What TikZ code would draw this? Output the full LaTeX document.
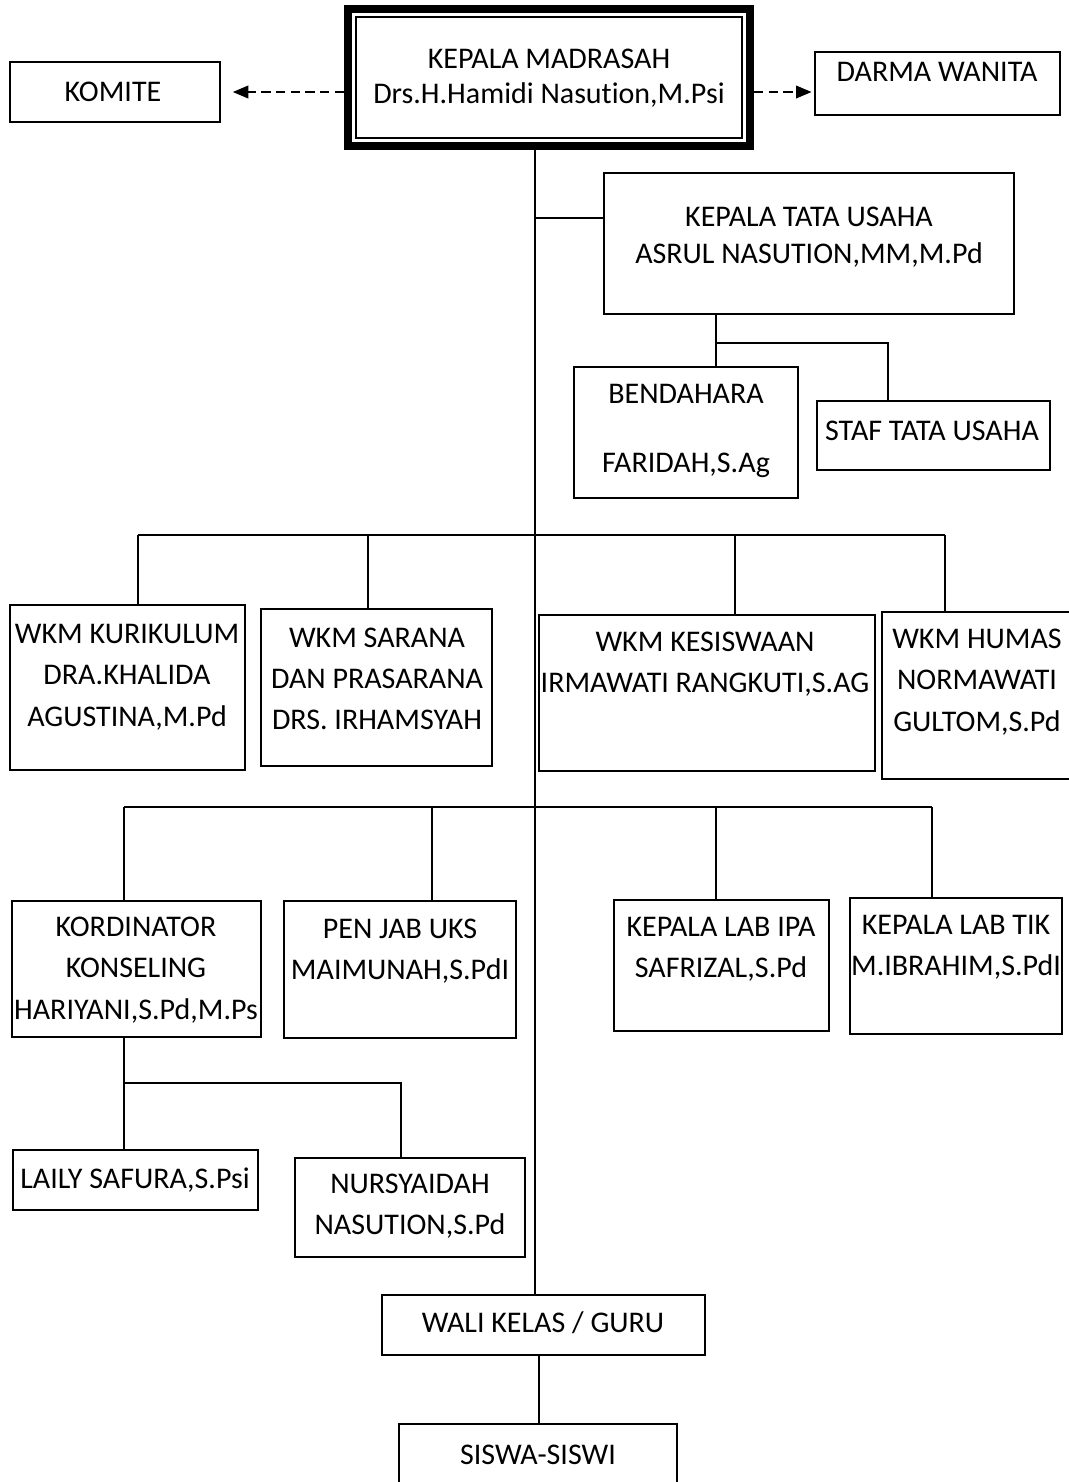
\documentclass[tikz,border=0pt]{standalone}
\usepackage{fontspec}
\setmainfont{Carlito}[Ligatures=NoCommon]
\usepackage{tikz}
\usetikzlibrary{arrows,fit}

\tikzset{
  box/.style={draw, line width=1.3pt, inner sep=0pt},
  txt/.style={align=center, inner sep=0pt, font=\fontsize{22.5}{31}\selectfont},
  link/.style={line width=1.1pt},
  dasharrow/.style={line width=1.7pt, dash pattern=on 7pt off 4pt, -triangle 45}
}

\begin{document}
\begin{tikzpicture}[x=0.75pt,y=-0.75pt]
\useasboundingbox (0,0) rectangle (1069,1482);

% pimpinan
\node[box, line width=6pt, fit={(348,9) (750,146)}] (kepala) {};
\draw[line width=1.3pt] ([shift={(12,12)}]kepala.north west) rectangle ([shift={(-12,-12)}]kepala.south east);
\node[txt, font=\fontsize{22.5}{26}\selectfont] (kepalaT) at (549,78) {KEPALA MADRASAH\\Drs.H.Hamidi Nasution,M.Psi};
\node[box, fit={(10,62) (220,122)}] (komite) {};
\node[txt] (komiteT) at (113,92) {KOMITE};
\node[box, fit={(815,52) (1060,115)}] (darma) {};
\node[txt] (darmaT) at (937,72) {DARMA WANITA};

% tata usaha
\node[box, fit={(604,173) (1014,314)}] (ktu) {};
\node[txt, font=\fontsize{22.5}{28}\selectfont] (ktuT) at (809,237) {KEPALA TATA USAHA\\ASRUL NASUTION,MM,M.Pd};
\node[box, fit={(574,367) (798,498)}] (bend) {};
\node[txt, font=\fontsize{22.5}{52}\selectfont] (bendT) at (686,431) {BENDAHARA\\FARIDAH,S.Ag};
\node[box, fit={(817,401) (1050,470)}] (staf) {};
\node[txt] (stafT) at (932,431) {STAF TATA USAHA};

% wakil kepala
\node[box, fit={(10,605) (245,770)}] (kur) {};
\node[txt] (kurT) at (127,677) {WKM KURIKULUM\\DRA.KHALIDA\\AGUSTINA,M.Pd};
\node[box, fit={(261,609) (492,766)}] (sar) {};
\node[txt] (sarT) at (377,679) {WKM SARANA\\DAN PRASARANA\\DRS. IRHAMSYAH};
\node[box, fit={(539,615) (875,771)}] (kes) {};
\node[txt] (kesT) at (705,664) {WKM KESISWAAN\\IRMAWATI RANGKUTI,S.AG};
\node[box, fit={(882,612) (1075,779)}] (hum) {};
\node[txt] (humT) at (977,682) {WKM HUMAS\\NORMAWATI\\GULTOM,S.Pd};

% koordinator
\node[box, fit={(12,901) (261,1037)}] (kord) {};
\node[txt] (kordT) at (136,970) {KORDINATOR\\KONSELING\\HARIYANI,S.Pd,M.Ps};
\node[box, fit={(284,901) (516,1038)}] (uks) {};
\node[txt] (uksT) at (400,951) {PEN JAB UKS\\MAIMUNAH,S.PdI};
\node[box, fit={(614,900) (829,1031)}] (ipa) {};
\node[txt] (ipaT) at (721,949) {KEPALA LAB IPA\\SAFRIZAL,S.Pd};
\node[box, fit={(850,898) (1062,1034)}] (tik) {};
\node[txt] (tikT) at (956,947) {KEPALA LAB TIK\\M.IBRAHIM,S.PdI};

% konselor
\node[box, fit={(13,1150) (258,1210)}] (laily) {};
\node[txt] (lailyT) at (135,1180) {LAILY SAFURA,S.Psi};
\node[box, fit={(295,1158) (525,1257)}] (nurs) {};
\node[txt] (nursT) at (410,1206) {NURSYAIDAH\\NASUTION,S.Pd};

% guru dan siswa
\node[box, fit={(382,1295) (705,1355)}] (wali) {};
\node[txt] (waliT) at (543,1323) {WALI KELAS / GURU};
\node[box, fit={(399,1424) (677,1495)}] (siswa) {};
\node[txt] (siswaT) at (538,1455) {SISWA-SISWI};

% garis koordinasi
\draw[dasharrow] (kepala.west |- komite.east) -- ([xshift=9pt]komite.east);
\draw[dasharrow] (kepala.east |- komite.east) -- ([xshift=-2pt]darma.west |- komite.east);

% garis komando
\coordinate (spine) at (535,150);
\draw[link] (spine) -- (spine |- wali.north);
\draw[link] (535,218) -- (535,218 -| ktu.west);
\coordinate (tuBus) at (716,343);
\draw[link] (tuBus |- ktu.south) -- (tuBus |- bend.north);
\draw[link] (tuBus) -| (888,343 |- staf.north);

\draw[link] (138,535) -- (945,535);
\foreach \x/\n in {138/kur,368/sar,735/kes,945/hum}
  \draw[link] (\x,535) -- (\x,535 |- \n.north);

\draw[link] (124,807) -- (932,807);
\foreach \x/\n in {124/kord,432/uks,716/ipa,932/tik}
  \draw[link] (\x,807) -- (\x,807 |- \n.north);

\coordinate (bkBus) at (124,1083);
\draw[link] (bkBus |- kord.south) -- (bkBus |- laily.north);
\draw[link] (bkBus) -| (401,1083 |- nurs.north);

\draw[link] (539,1355 |- wali.south) -- (539,1355 |- siswa.north);
\end{tikzpicture}
\end{document}
